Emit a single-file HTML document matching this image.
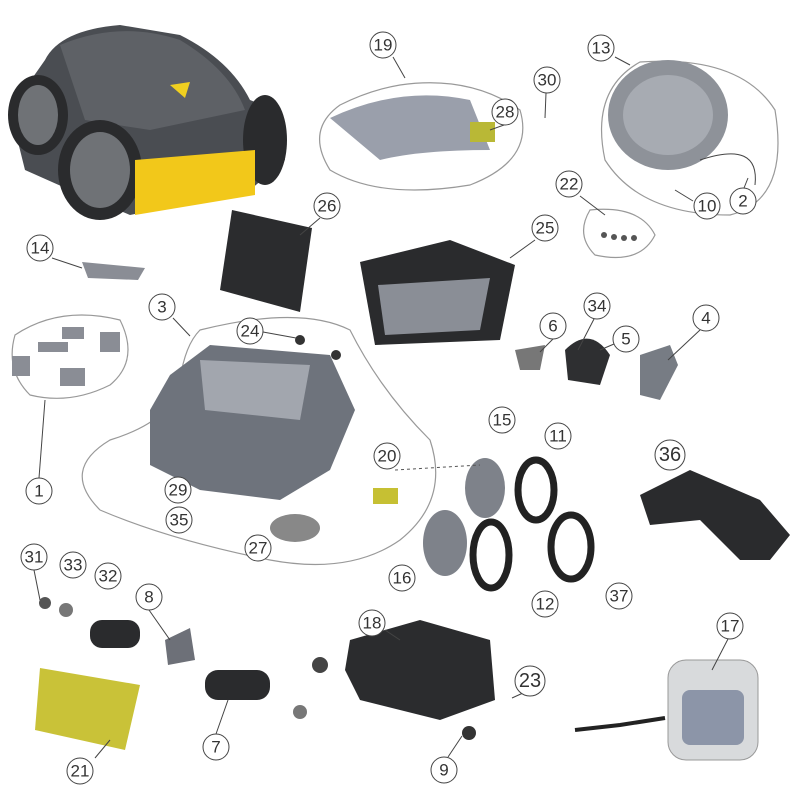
<!DOCTYPE html>
<html><head><style>
html,body{margin:0;padding:0;background:#fff;}
svg{display:block}
text{font-family:"Liberation Sans",sans-serif;font-size:17px;fill:#333;text-anchor:middle;dominant-baseline:central}
.c{fill:#fff;stroke:#444;stroke-width:1}
.o{fill:none;stroke:#999;stroke-width:1.2}
.l{stroke:#444;stroke-width:1;fill:none}
</style></head><body>
<svg width="800" height="800" viewBox="0 0 800 800">
<!-- robot -->
<path d="M45,60 Q60,30 120,25 L180,35 Q230,60 250,100 L275,110 L285,160 L250,190 L130,215 L70,190 L25,170 L10,110 Z" fill="#4a4d52"/>
<path d="M60,45 Q120,20 180,40 Q230,70 245,110 L150,130 L85,120 Z" fill="#5e6166"/>
<ellipse cx="100" cy="170" rx="42" ry="50" fill="#2a2b2d"/><ellipse cx="100" cy="170" rx="30" ry="38" fill="#6f7276"/>
<ellipse cx="38" cy="115" rx="30" ry="40" fill="#2a2b2d"/><ellipse cx="38" cy="115" rx="20" ry="30" fill="#6f7276"/>
<ellipse cx="265" cy="140" rx="22" ry="45" fill="#2a2b2d"/>
<path d="M135,160 L255,150 L255,195 L135,215 Z" fill="#f2c81a"/>
<path d="M170,85 L190,82 L185,98 Z" fill="#f0d020"/>
<!-- 14 -->
<path d="M82,262 L145,268 L138,280 L88,278 Z" fill="#8a8d95"/>
<!-- 26 -->
<path d="M232,210 L312,228 L300,312 L220,290 Z" fill="#2b2c2e"/>
<!-- 19 outline & cover -->
<path class="o" d="M400,85 Q470,75 520,110 Q535,160 470,185 Q380,200 330,170 Q305,130 340,105 Q370,90 400,85Z"/>
<path d="M330,118 Q400,85 470,100 L490,150 Q420,150 380,160 Z" fill="#9a9fab"/>
<rect x="470" y="122" width="25" height="20" fill="#b9b836"/>
<!-- 13 -->
<path class="o" d="M640,62 Q740,55 775,110 Q790,200 730,215 Q640,215 605,160 Q590,90 640,62Z"/>
<ellipse cx="668" cy="115" rx="60" ry="55" fill="#8e9299"/><ellipse cx="668" cy="115" rx="45" ry="40" fill="#a7abb2"/>
<path class="l" d="M700,160 Q760,140 755,185" stroke="#666" stroke-width="3"/>
<!-- 22 -->
<path class="o" d="M590,210 Q640,205 655,235 Q640,265 595,255 Q575,235 590,210Z"/>
<g fill="#555"><circle cx="604" cy="235" r="3"/><circle cx="614" cy="237" r="3"/><circle cx="624" cy="238" r="3"/><circle cx="634" cy="238" r="3"/></g>
<!-- 25 basket -->
<path d="M360,262 L450,240 L515,265 L500,340 L375,345 Z" fill="#2a2b2d"/>
<path d="M378,285 L490,278 L480,330 L385,335 Z" fill="#8a8e96"/>
<!-- 1 outline -->
<path class="o" d="M15,335 Q60,305 120,320 Q140,360 110,385 Q70,405 30,395 Q5,370 15,335Z"/>
<g fill="#8a8d95"><rect x="62" y="327" width="22" height="12"/><rect x="38" y="342" width="30" height="10"/><rect x="100" y="332" width="20" height="20"/><rect x="12" y="356" width="18" height="20"/><rect x="60" y="368" width="25" height="18"/></g>
<!-- 3 outline chassis -->
<path class="o" d="M200,330 Q300,305 350,330 Q380,390 430,440 Q450,500 400,540 Q350,575 270,560 Q170,540 100,510 Q60,470 110,440 Q175,420 180,380 Q185,345 200,330Z"/>
<path d="M170,375 L210,345 L330,355 L355,410 L330,470 L280,500 L200,490 L150,465 L150,410 Z" fill="#6e737c"/>
<path d="M200,360 L310,365 L300,420 L205,410 Z" fill="#a2a6ae"/>
<circle cx="300" cy="340" r="5" fill="#333"/><circle cx="336" cy="355" r="5" fill="#333"/>
<rect x="373" y="488" width="25" height="16" fill="#c6c033"/>
<ellipse cx="295" cy="528" rx="25" ry="14" fill="#888"/>
<!-- right parts -->
<path d="M515,350 L545,345 L540,370 L520,370 Z" fill="#777"/>
<path d="M565,350 Q590,325 610,355 L600,385 L568,380 Z" fill="#2e2f31"/>
<path d="M640,355 L670,345 L678,365 L660,400 L640,395 Z" fill="#777c84"/>
<!-- 36 -->
<path d="M640,495 L690,470 L760,500 L790,535 L770,560 L740,560 L700,520 L650,525 Z" fill="#2a2b2d"/>
<!-- wheels -->
<ellipse cx="485" cy="488" rx="20" ry="30" fill="#7e828a"/>
<ellipse cx="536" cy="490" rx="18" ry="30" fill="none" stroke="#222" stroke-width="7"/>
<ellipse cx="445" cy="543" rx="22" ry="33" fill="#7e828a"/>
<ellipse cx="491" cy="555" rx="18" ry="33" fill="none" stroke="#222" stroke-width="7"/>
<ellipse cx="571" cy="547" rx="20" ry="32" fill="none" stroke="#222" stroke-width="7"/>
<line x1="395" y1="470" x2="480" y2="465" stroke="#555" stroke-dasharray="3,3"/>
<!-- bottom left -->
<circle cx="45" cy="603" r="6" fill="#555"/><circle cx="66" cy="610" r="7" fill="#777"/>
<rect x="90" y="620" width="50" height="28" rx="12" fill="#2a2b2d"/>
<path d="M165,640 L190,628 L195,660 L168,665 Z" fill="#6d7078"/>
<path d="M40,668 L140,685 L125,750 L35,730 Z" fill="#c9c238"/>
<rect x="205" y="670" width="65" height="30" rx="13" fill="#2a2b2d"/>
<circle cx="300" cy="712" r="7" fill="#777"/>
<!-- 18 -->
<path d="M350,640 L420,620 L490,640 L495,700 L440,720 L360,700 L345,670 Z" fill="#2b2c2e"/>
<circle cx="320" cy="665" r="8" fill="#444"/>
<circle cx="469" cy="733" r="7" fill="#333"/>
<!-- 17 -->
<rect x="668" y="660" width="90" height="100" rx="18" fill="#d8dadc" stroke="#999"/>
<rect x="682" y="690" width="62" height="55" rx="8" fill="#8c95a8"/>
<path d="M575,730 L620,725 L665,718" stroke="#222" stroke-width="4" fill="none"/>
<!-- leader lines -->
<g class="l">
<line x1="393" y1="57" x2="405" y2="78"/><line x1="615" y1="57" x2="630" y2="65"/>
<line x1="546" y1="93" x2="545" y2="118"/><line x1="504" y1="125" x2="490" y2="130"/>
<line x1="580" y1="196" x2="605" y2="215"/><line x1="320" y1="218" x2="300" y2="235"/>
<line x1="535" y1="240" x2="510" y2="258"/><line x1="52" y1="258" x2="82" y2="268"/>
<line x1="173" y1="318" x2="190" y2="336"/><line x1="263" y1="332" x2="296" y2="338"/>
<line x1="553" y1="339" x2="540" y2="352"/><line x1="594" y1="319" x2="578" y2="350"/>
<line x1="614" y1="344" x2="600" y2="350"/><line x1="700" y1="330" x2="668" y2="360"/>
<line x1="39" y1="478" x2="45" y2="400"/><line x1="693" y1="201" x2="675" y2="190"/>
<line x1="744" y1="188" x2="748" y2="178"/>
<line x1="34" y1="570" x2="40" y2="600"/><line x1="149" y1="610" x2="170" y2="640"/>
<line x1="216" y1="734" x2="228" y2="700"/><line x1="95" y1="758" x2="110" y2="740"/>
<line x1="385" y1="630" x2="400" y2="640"/><line x1="728" y1="639" x2="712" y2="670"/>
<line x1="523" y1="693" x2="512" y2="698"/><line x1="448" y1="757" x2="462" y2="736"/>
</g>
<!-- labels -->
<g>
<circle class="c" cx="383" cy="45" r="13"/><text x="383" y="45">19</text>
<circle class="c" cx="547" cy="80" r="13"/><text x="547" y="80">30</text>
<circle class="c" cx="601" cy="48" r="13"/><text x="601" y="48">13</text>
<circle class="c" cx="505" cy="112" r="13"/><text x="505" y="112">28</text>
<circle class="c" cx="569" cy="184" r="13"/><text x="569" y="184">22</text>
<circle class="c" cx="707" cy="206" r="13"/><text x="707" y="206">10</text>
<circle class="c" cx="743" cy="201" r="13"/><text x="743" y="201">2</text>
<circle class="c" cx="327" cy="206" r="13"/><text x="327" y="206">26</text>
<circle class="c" cx="545" cy="228" r="13"/><text x="545" y="228">25</text>
<circle class="c" cx="40" cy="248" r="13"/><text x="40" y="248">14</text>
<circle class="c" cx="162" cy="307" r="13"/><text x="162" y="307">3</text>
<circle class="c" cx="250" cy="331" r="13"/><text x="250" y="331">24</text>
<circle class="c" cx="553" cy="326" r="13"/><text x="553" y="326">6</text>
<circle class="c" cx="597" cy="306" r="13"/><text x="597" y="306">34</text>
<circle class="c" cx="626" cy="339" r="13"/><text x="626" y="339">5</text>
<circle class="c" cx="706" cy="318" r="13"/><text x="706" y="318">4</text>
<circle class="c" cx="502" cy="420" r="13"/><text x="502" y="420">15</text>
<circle class="c" cx="558" cy="436" r="13"/><text x="558" y="436">11</text>
<circle class="c" cx="670" cy="455" r="15"/><text x="670" y="455" style="font-size:20px">36</text>
<circle class="c" cx="387" cy="456" r="13"/><text x="387" y="456">20</text>
<circle class="c" cx="39" cy="491" r="13"/><text x="39" y="491">1</text>
<circle class="c" cx="178" cy="490" r="13"/><text x="178" y="490">29</text>
<circle class="c" cx="179" cy="520" r="13"/><text x="179" y="520">35</text>
<circle class="c" cx="258" cy="548" r="13"/><text x="258" y="548">27</text>
<circle class="c" cx="402" cy="578" r="13"/><text x="402" y="578">16</text>
<circle class="c" cx="545" cy="604" r="13"/><text x="545" y="604">12</text>
<circle class="c" cx="619" cy="596" r="13"/><text x="619" y="596">37</text>
<circle class="c" cx="34" cy="557" r="13"/><text x="34" y="557">31</text>
<circle class="c" cx="73" cy="565" r="13"/><text x="73" y="565">33</text>
<circle class="c" cx="108" cy="576" r="13"/><text x="108" y="576">32</text>
<circle class="c" cx="149" cy="597" r="13"/><text x="149" y="597">8</text>
<circle class="c" cx="372" cy="623" r="13"/><text x="372" y="623">18</text>
<circle class="c" cx="730" cy="626" r="13"/><text x="730" y="626">17</text>
<circle class="c" cx="530" cy="681" r="15"/><text x="530" y="681" style="font-size:20px">23</text>
<circle class="c" cx="216" cy="747" r="13"/><text x="216" y="747">7</text>
<circle class="c" cx="80" cy="771" r="13"/><text x="80" y="771">21</text>
<circle class="c" cx="444" cy="770" r="13"/><text x="444" y="770">9</text>
</g>
</svg>
</body></html>
